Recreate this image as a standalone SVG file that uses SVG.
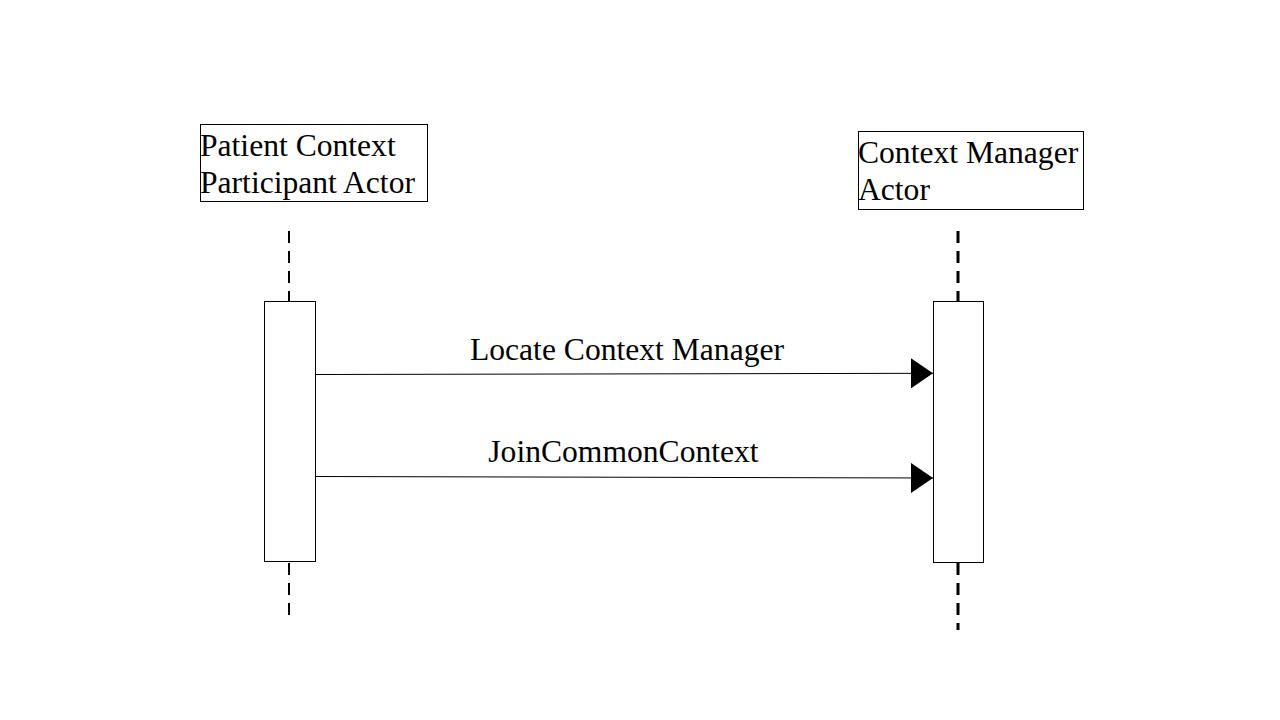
<svg xmlns="http://www.w3.org/2000/svg" width="1280" height="720" viewBox="0 0 1280 720">
<style>
.box{fill:#fff;stroke:#000;stroke-width:1}
.t{font-family:"Liberation Serif","Times New Roman",serif;font-size:31.6px;fill:#000}
.life1{stroke:#000;stroke-width:2;stroke-dasharray:12 8;fill:none}
.life2{stroke:#000;stroke-width:3;stroke-dasharray:12 8;fill:none}
.msg{stroke:#000;stroke-width:1;fill:none}
</style>
<defs>
<marker id="ah" markerUnits="userSpaceOnUse" markerWidth="22" markerHeight="30" refX="22" refY="15" orient="auto">
<path d="M0,0 L22,15 L0,30 Z" fill="#000"/>
</marker>
</defs>
<rect width="1280" height="720" fill="#fff"/>
<g id="lifelines">
<line class="life1" x1="289" y1="231" x2="289" y2="301"/>
<line class="life1" x1="289" y1="563" x2="289" y2="616"/>
<line class="life2" x1="958" y1="231" x2="958" y2="301"/>
<line class="life2" x1="958" y1="563" x2="958" y2="630"/>
</g>
<g id="patient-actor">
<rect class="box" x="200.5" y="124.5" width="227" height="77"/>
<text class="t" x="200" y="156">Patient Context</text>
<text class="t" x="200" y="193">Participant Actor</text>
</g>
<g id="cm-actor">
<rect class="box" x="858.5" y="131.5" width="225" height="78"/>
<text class="t" x="858" y="163">Context Manager</text>
<text class="t" x="858" y="200">Actor</text>
</g>
<g id="patient-activation">
<rect class="box" x="264.5" y="301.5" width="51" height="260"/>
</g>
<g id="cm-activation">
<rect class="box" x="933.5" y="301.5" width="50" height="261"/>
</g>
<g id="connectors">
<line class="msg" x1="316" y1="374.5" x2="933" y2="373.3" marker-end="url(#ah)"/>
<line class="msg" x1="316" y1="476.5" x2="933" y2="478" marker-end="url(#ah)"/>
</g>
<g id="labels">
<text class="t" x="627" y="360" text-anchor="middle">Locate Context Manager</text>
<text class="t" x="623.5" y="462" text-anchor="middle">JoinCommonContext</text>
</g>
</svg>
